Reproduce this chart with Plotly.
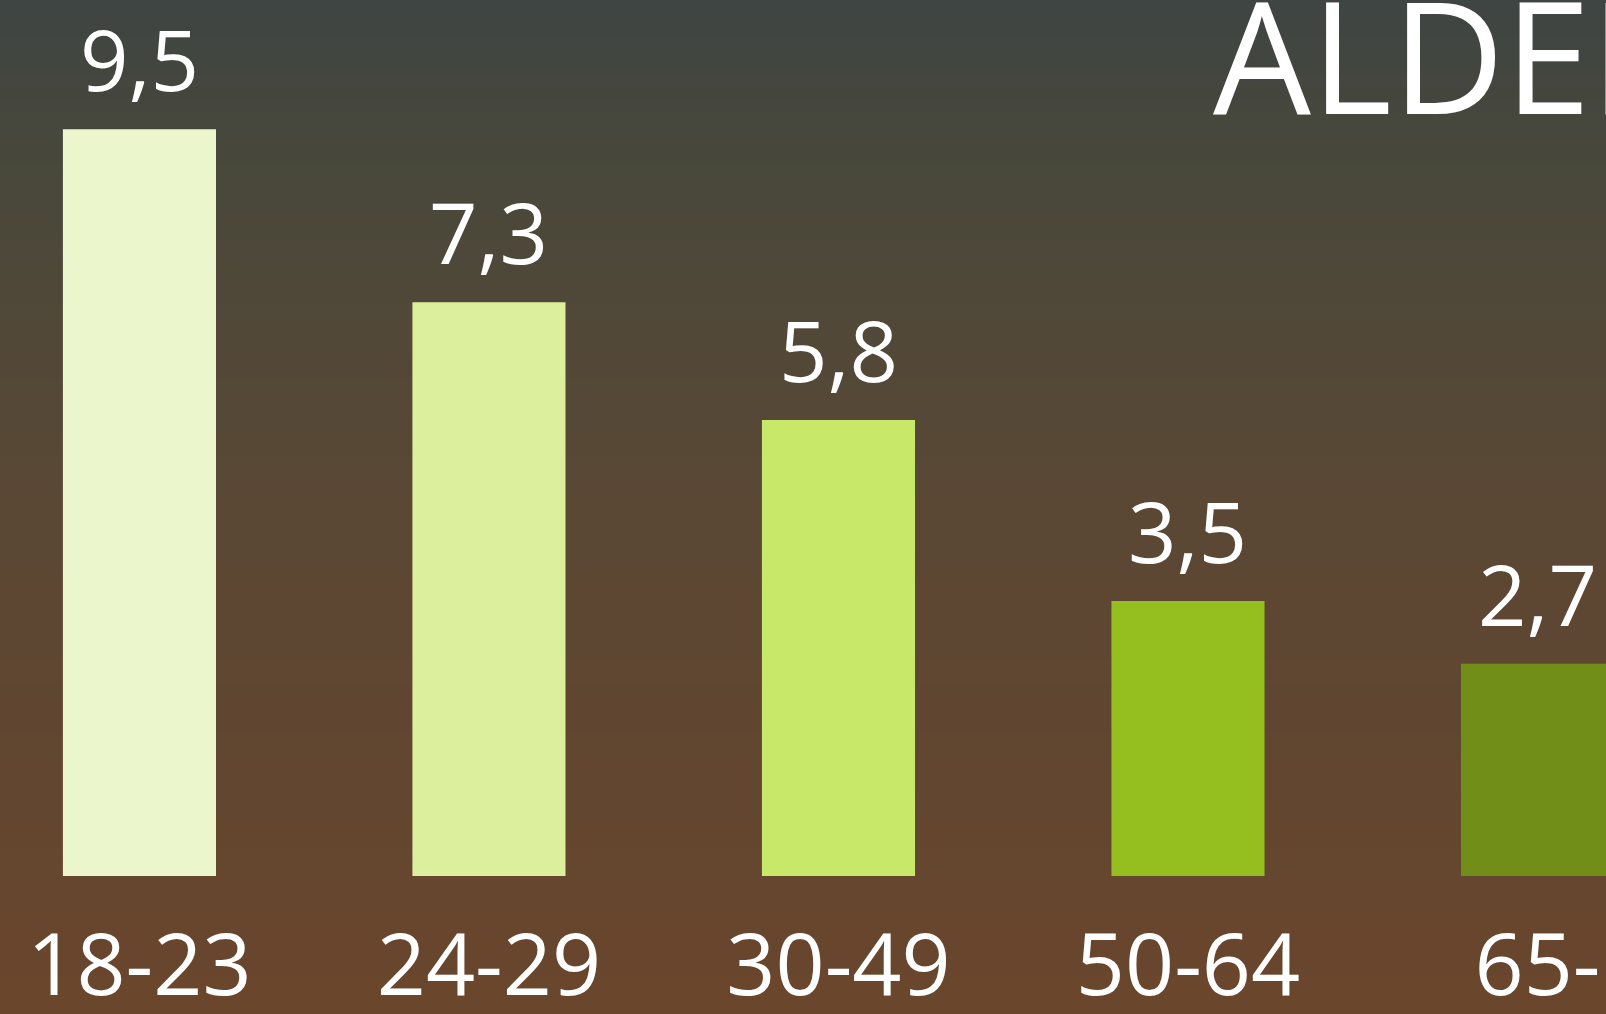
import plotly.graph_objects as go

categories = ["18-23", "24-29", "30-49", "50-64", "65-"]
values = [9.5, 7.3, 5.8, 3.5, 2.7]
bar_colors = ["#EBF6CC", "#DBEF9C", "#C8E86A", "#95BF1E", "#718F18"]
title_text = "ALDER"

FONT = "Open Sans"
W, H = 1606, 1014
B = 138
PH = H - B

fig = go.Figure()
fig.add_trace(go.Bar(
    x=categories, y=values,
    marker=dict(color=bar_colors, line=dict(width=0)),
    width=0.438,
    hoverinfo="skip",
))

# background gradient strips
stops = [(0, (63, 69, 66)), (200, (74, 72, 58)), (500, (90, 72, 53)),
         (750, (97, 70, 48)), (1014, (106, 70, 44))]

def col_at(py):
    for (p0, c0), (p1, c1) in zip(stops[:-1], stops[1:]):
        if p0 <= py <= p1:
            t = (py - p0) / (p1 - p0)
            return "rgb(%d,%d,%d)" % tuple(round(a + (b - a) * t) for a, b in zip(c0, c1))
    return "rgb(%d,%d,%d)" % stops[-1][1]

shapes = []
N = 80
for i in range(N):
    py0 = H * i / N
    py1 = H * (i + 1) / N
    shapes.append(dict(type="rect", xref="paper", yref="paper",
                       x0=-0.01, x1=1.01,
                       y0=(PH - py1) / PH, y1=(PH - py0) / PH + 0.002,
                       fillcolor=col_at((py0 + py1) / 2), line=dict(width=0),
                       layer="below"))

annotations = []
for c, v in zip(categories, values):
    annotations.append(dict(x=c, y=v, xref="x", yref="y", text=f"{v:.1f}".replace(".", ","),
                            showarrow=False, yanchor="bottom", yshift=11,
                            font=dict(family=FONT, size=85, color="white")))
annotations.append(dict(x=1211 / W, y=(PH + 54) / PH, xref="paper", yref="paper",
                        text=title_text, showarrow=False, xanchor="left", yanchor="top",
                        font=dict(family=FONT, size=155, color="white")))

fig.update_layout(
    width=W, height=H,
    margin=dict(l=0, r=0, t=0, b=B, pad=0, autoexpand=False),
    paper_bgcolor="rgb(90,72,53)", plot_bgcolor="rgba(0,0,0,0)",
    shapes=shapes, annotations=annotations,
    showlegend=False, bargap=0.562,
    xaxis=dict(range=[-0.399, 4.196], showgrid=False, zeroline=False, showline=False,
               ticks="", tickfont=dict(family=FONT, size=86, color="white"),
               ticklabelstandoff=32, fixedrange=True, automargin=False),
    yaxis=dict(range=[0, PH / 78.6], visible=False, fixedrange=True, automargin=False),
)

fig.write_html("out.html", config={"displayModeBar": False},
               post_script="document.body.style.margin='0';document.body.style.overflow='hidden';")
